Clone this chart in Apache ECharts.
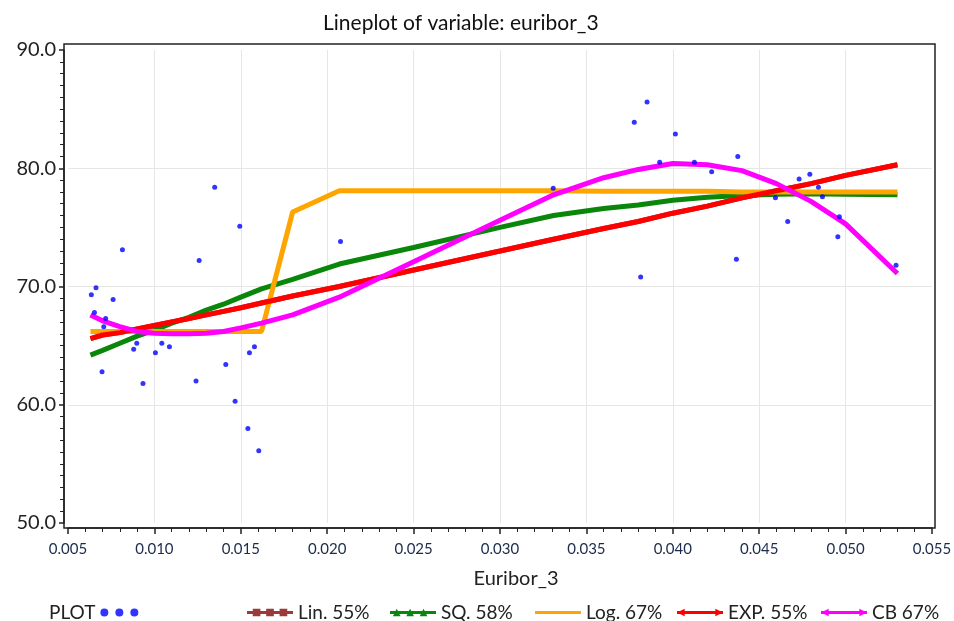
<!DOCTYPE html>
<html>
<head>
<meta charset="utf-8">
<script src="https://cdn.jsdelivr.net/npm/echarts@6/dist/echarts.min.js"></script>
<style>
  html, body { margin: 0; padding: 0; background: #fff; }
  #chart { width: 954px; height: 621px; }
</style>
</head>
<body>
<div id="chart"></div>
<script>
// observed points (euribor_3 vs variable)
const pointX = [0.00815, 0.01259, 0.00662, 0.00635, 0.00761, 0.00653, 0.00718, 0.00707,
  0.00898, 0.00880, 0.01043, 0.01087, 0.01006, 0.00697, 0.00934, 0.01241, 0.01413,
  0.01579, 0.01550, 0.01467, 0.01541, 0.01604, 0.01349, 0.01494, 0.02077, 0.03308,
  0.03851, 0.03777, 0.04015, 0.03924, 0.04125, 0.04225, 0.04376, 0.03814, 0.04368,
  0.04594, 0.04731, 0.04793, 0.04843, 0.04866, 0.04665, 0.04964, 0.04955, 0.05292];
const pointY = [73.1, 72.2, 69.9, 69.3, 68.9, 67.8, 67.3, 66.6,
  65.2, 64.7, 65.2, 64.9, 64.4, 62.8, 61.8, 62.0, 63.4,
  64.9, 64.4, 60.3, 58.0, 56.1, 78.4, 75.1, 73.8, 78.3,
  85.6, 83.9, 82.9, 80.5, 80.5, 79.7, 81.0, 70.8, 72.3,
  77.5, 79.1, 79.5, 78.4, 77.6, 75.5, 75.9, 74.2, 71.8];

// fitted curves, read at these x positions
const fitX = [0.0063, 0.0070, 0.0080, 0.0090, 0.0100, 0.0110, 0.0120, 0.0130, 0.0140,
  0.0150, 0.0162, 0.0180, 0.0207, 0.0250, 0.0300, 0.0331, 0.0360, 0.0380, 0.0400,
  0.0420, 0.0440, 0.0460, 0.0480, 0.0500, 0.0530];
const linY = [65.6, 65.9, 66.1, 66.4, 66.7, 67.0, 67.3, 67.6, 67.9,
  68.2, 68.6, 69.2, 70.0, 71.4, 73.0, 74.0, 74.9, 75.5, 76.2,
  76.8, 77.5, 78.1, 78.7, 79.4, 80.3];
const sqY = [64.2, 64.6, 65.2, 65.8, 66.3, 66.9, 67.4, 68.0, 68.5,
  69.1, 69.8, 70.6, 71.9, 73.3, 75.0, 76.0, 76.6, 76.9, 77.3,
  77.55, 77.7, 77.8, 77.85, 77.8, 77.75];
const logY = [66.2, 66.2, 66.2, 66.2, 66.2, 66.2, 66.2, 66.2, 66.2,
  66.2, 66.2, 76.3, 78.1, 78.1, 78.1, 78.1, 78.05, 78.05, 78.05,
  78.05, 78.0, 78.0, 78.0, 78.0, 78.0];
const expY = [65.6, 65.9, 66.1, 66.4, 66.7, 67.0, 67.3, 67.6, 67.9,
  68.2, 68.6, 69.2, 70.0, 71.4, 73.0, 74.0, 74.9, 75.5, 76.2,
  76.8, 77.5, 78.1, 78.7, 79.4, 80.3];
const cbY = [67.6, 67.1, 66.6, 66.2, 66.05, 66.0, 66.0, 66.05, 66.2,
  66.5, 66.9, 67.6, 69.1, 72.1, 75.6, 77.75, 79.2, 79.9, 80.4,
  80.3, 79.8, 78.7, 77.2, 75.3, 71.1];

const pairs = (xs, ys) => xs.map((x, i) => [x, ys[i]]);
const FONT = 'Lato';

let chart = echarts.init(document.getElementById('chart'), null, { renderer: 'canvas' });

function lineSeries(name, color, ys, z) {
  return {
    name: name,
    type: 'line',
    data: pairs(fitX, ys),
    symbol: 'none',
    z: z,
    lineStyle: { color: color, width: 5 },
    itemStyle: { color: color }
  };
}

function legendOne(name, icon, left) {
  return {
    data: [{ name: name, icon: icon }],
    left: left,
    top: 598,
    itemWidth: 46,
    itemHeight: 8,
    selectedMode: false,
    textStyle: { fontFamily: FONT, fontSize: 19, color: '#222' }
  };
}

let option = {
  animation: false,
  backgroundColor: '#fff',
  title: {
    text: 'Lineplot of variable: euribor_3',
    left: 318,
    top: 8,
    textStyle: { fontFamily: FONT, fontSize: 21, fontWeight: 'normal', color: '#111' }
  },
  grid: { left: 68, right: 22, top: 50, bottom: 98, outerBoundsMode: 'none' },
  legend: [
    {
      data: [{ name: 'PLOT', icon: 'path://M0,4a4,4 0 1,0 8,0a4,4 0 1,0 -8,0M15,4a4,4 0 1,0 8,0a4,4 0 1,0 -8,0M30,4a4,4 0 1,0 8,0a4,4 0 1,0 -8,0' }],
      left: 44,
      top: 598,
      align: 'right',
      itemWidth: 38,
      itemHeight: 8,
      selectedMode: false,
      textStyle: { fontFamily: FONT, fontSize: 19, color: '#222' }
    },
    legendOne('Lin. 55%', 'path://M0,2.5H48V5.5H0Z M6,0H14V8H6Z M20,0H28V8H20Z M34,0H42V8H34Z', 242),
    legendOne('SQ. 58%', 'path://M0,2.5H48V5.5H0Z M7,0L11,8H3Z M21,0L25,8H17Z M35,0L39,8H31Z', 385),
    legendOne('Log. 67%', 'path://M0,2.5H48V5.5H0Z', 530),
    legendOne('EXP. 55%', 'path://M0,2.5H48V5.5H0Z M40,0L48,4L40,8Z M8,8L0,4L8,0Z', 672),
    legendOne('CB 67%', 'path://M0,2.5H48V5.5H0Z M40,0L48,4L40,8Z M8,8L0,4L8,0Z', 816)
  ],
  xAxis: {
    type: 'value',
    min: 0.005,
    max: 0.055,
    interval: 0.005,
    offset: 5,
    name: 'Euribor_3',
    nameLocation: 'middle',
    nameGap: 41,
    nameTextStyle: { fontFamily: FONT, fontSize: 20, color: '#222', padding: [0, 0, 0, 32] },
    axisLine: { show: true, lineStyle: { color: '#222', width: 1.5 } },
    axisTick: { show: true, length: 6, lineStyle: { color: '#222', width: 1.5 } },
    minorTick: { show: true, splitNumber: 5, length: 4, lineStyle: { color: '#222', width: 1 } },
    axisLabel: {
      formatter: v => v.toFixed(3),
      fontFamily: FONT, fontSize: 15, color: '#1c2b4a', margin: 14
    },
    splitLine: { show: true, showMinLine: false, showMaxLine: false, lineStyle: { color: '#e6e6e6', width: 1 } }
  },
  yAxis: {
    type: 'value',
    min: 50,
    max: 90,
    interval: 10,
    offset: 4,
    axisLine: { show: true, lineStyle: { color: '#222', width: 1.5 } },
    axisTick: { show: true, length: 5, lineStyle: { color: '#222', width: 1.5 } },
    minorTick: { show: true, splitNumber: 10, length: 4, lineStyle: { color: '#222', width: 1 } },
    axisLabel: {
      formatter: v => v.toFixed(1),
      fontFamily: FONT, fontSize: 20, color: '#222', margin: 8
    },
    splitLine: { show: true, showMinLine: false, showMaxLine: false, lineStyle: { color: '#e6e6e6', width: 1 } }
  },
  graphic: [{
    type: 'rect',
    silent: true,
    z: 100,
    shape: { x: 64, y: 44, width: 871, height: 484 },
    style: { fill: 'none', stroke: '#222', lineWidth: 1.5 }
  }],
  series: [
    lineSeries('Lin. 55%', '#9b3a3a', linY, 2),
    lineSeries('SQ. 58%', '#0a860a', sqY, 3),
    lineSeries('Log. 67%', '#ffa500', logY, 4),
    lineSeries('EXP. 55%', '#ff0000', expY, 5),
    lineSeries('CB 67%', '#ff00ff', cbY, 6),
    {
      name: 'PLOT',
      type: 'scatter',
      data: pairs(pointX, pointY),
      symbol: 'circle',
      symbolSize: 5,
      z: 10,
      itemStyle: { color: '#0000ff' }
    }
  ]
};

chart.setOption(option);
</script>
</body>
</html>
